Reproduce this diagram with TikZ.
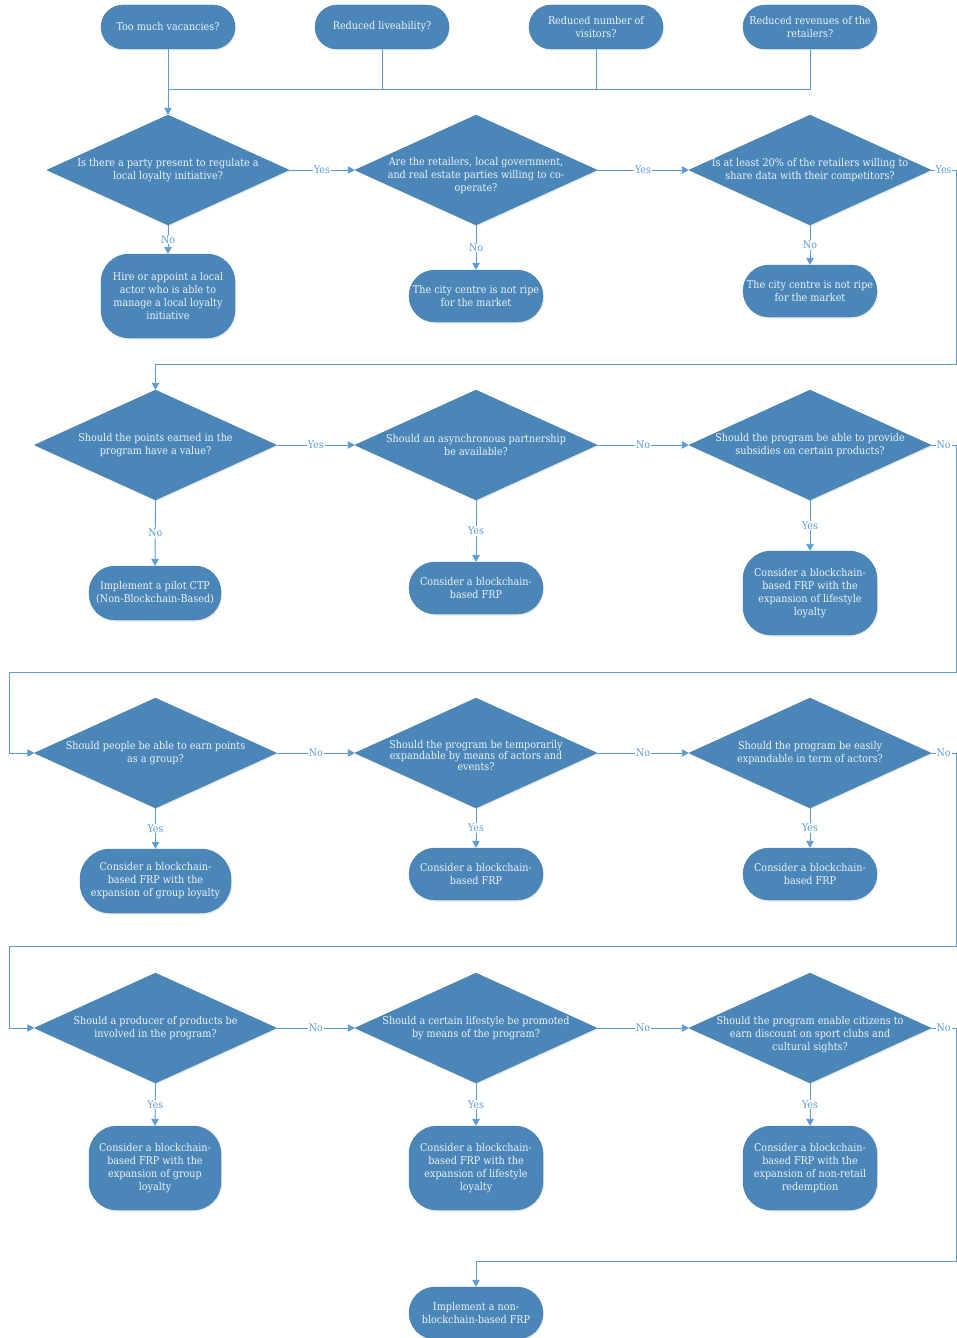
\documentclass[tikz,border=0pt]{standalone}
\usepackage{fontspec}
\setmainfont{DejaVu Serif Condensed}
\usetikzlibrary{shapes.geometric,arrows.meta,shadows}
\definecolor{boxblue}{HTML}{4A86B8}
\definecolor{boxedge}{HTML}{437DAF}
\definecolor{linkblue}{HTML}{5B9BD5}
\definecolor{boxtext}{HTML}{EEF3F8}
\tikzset{
  shadowed/.style={drop shadow={opacity=0.18,shadow xshift=1pt,shadow yshift=-1.5pt}},
  terminal/.style={rectangle,rounded corners=22pt,minimum width=134pt,minimum height=44pt,
    fill=boxblue,draw=boxedge,line width=0.4pt,shadowed,text=boxtext,align=center,
    font=\fontsize{10.7}{13}\selectfont,inner sep=0pt},
  outcome/.style={rectangle,rounded corners=26pt,minimum width=134pt,minimum height=52pt,
    fill=boxblue,draw=boxedge,line width=0.4pt,shadowed,text=boxtext,align=center,
    font=\fontsize{10.7}{13}\selectfont,inner sep=0pt},
  tall/.style={outcome,minimum height=84pt,rounded corners=28pt},
  decision/.style={diamond,minimum width=242pt,minimum height=110pt,inner sep=0pt,
    fill=boxblue,draw=boxedge,line width=0.4pt,shadowed},
  qtext/.style={text=boxtext,align=center,font=\fontsize{10.7}{13}\selectfont,inner sep=0pt},
  link/.style={draw=linkblue,line width=0.9pt},
  arrowlink/.style={link,-{Triangle[length=7pt,width=7.5pt]}},
  answer/.style={fill=white,text=linkblue,inner sep=1pt,font=\fontsize{10.5}{12}\selectfont},
}
\begin{document}
\begin{tikzpicture}[x=1pt,y=-1pt]
\useasboundingbox[fill=white] (0,0) rectangle (957,1338);

% ---- starting symptoms ----
\node[terminal] (t1) at (168,27) {Too much vacancies?};
\node[terminal] (t2) at (382,27) {Reduced liveability?};
\node[terminal] (t3) at (596,27) {Reduced number of\\visitors?};
\node[terminal] (t4) at (810,27) {Reduced revenues of the\\retailers?};

% ---- row 1 ----
\node[decision] (q11) at (168,170) {};
\node[qtext] (q11t) at (168,170.5) {Is there a party present to regulate a\\local loyalty initiative?};
\node[decision] (q12) at (476,170) {};
\node[qtext] (q12t) at (476,176) {Are the retailers, local government,\\and real estate parties willing to co-\\operate?};
\node[decision] (q13) at (810,170) {};
\node[qtext] (q13t) at (810,170.5) {Is at least 20\% of the retailers willing to\\share data with their competitors?};

\node[tall] (b11) at (168,296) {Hire or appoint a local\\actor who is able to\\manage a local loyalty\\initiative};
\node[outcome] (b12) at (476,296) {The city centre is not ripe\\for the market};
\node[outcome] (b13) at (810,291) {The city centre is not ripe\\for the market};

% ---- row 2 ----
\node[decision] (q21) at (155.5,445) {};
\node[qtext] (q21t) at (155.5,445) {Should the points earned in the\\program have a value?};
\node[decision] (q22) at (476,445) {};
\node[qtext] (q22t) at (476,445) {Should an asynchronous partnership\\be available?};
\node[decision] (q23) at (810,445) {};
\node[qtext] (q23t) at (810,445) {Should the program be able to provide\\subsidies on certain products?};

\node[outcome,minimum width=132pt,minimum height=54pt] (b21) at (155,593) {Implement a pilot CTP\\(Non-Blockchain-Based)};
\node[outcome] (b22) at (476,588) {Consider a blockchain-\\based FRP};
\node[tall] (b23) at (810,593) {Consider a blockchain-\\based FRP with the\\expansion of lifestyle\\loyalty};

% ---- row 3 ----
\node[decision] (q31) at (155.5,753) {};
\node[qtext] (q31t) at (155.5,753) {Should people be able to earn points\\as a group?};
\node[decision] (q32) at (476,753) {};
\node[qtext,font=\fontsize{10.7}{11}\selectfont] (q32t) at (476,756) {Should the program be temporarily\\expandable by means of actors and\\events?};
\node[decision] (q33) at (810,753) {};
\node[qtext] (q33t) at (810,753) {Should the program be easily\\expandable in term of actors?};

\node[outcome,minimum width=151pt,minimum height=64pt,rounded corners=30pt] (b31) at (155.5,881) {Consider a blockchain-\\based FRP with the\\expansion of group loyalty};
\node[outcome] (b32) at (476,874) {Consider a blockchain-\\based FRP};
\node[outcome] (b33) at (810,874) {Consider a blockchain-\\based FRP};

% ---- row 4 ----
\node[decision] (q41) at (155.5,1028) {};
\node[qtext] (q41t) at (155.5,1028) {Should a producer of products be\\involved in the program?};
\node[decision] (q42) at (476,1028) {};
\node[qtext] (q42t) at (476,1028) {Should a certain lifestyle be promoted\\by means of the program?};
\node[decision] (q43) at (810,1028) {};
\node[qtext] (q43t) at (810,1034.5) {Should the program enable citizens to\\earn discount on sport clubs and\\cultural sights?};

\node[tall,minimum width=132pt] (b41) at (155,1168) {Consider a blockchain-\\based FRP with the\\expansion of group\\loyalty};
\node[tall] (b42) at (476,1168) {Consider a blockchain-\\based FRP with the\\expansion of lifestyle\\loyalty};
\node[tall] (b43) at (810,1168) {Consider a blockchain-\\based FRP with the\\expansion of non-retail\\redemption};

\node[outcome] (bf) at (476,1313) {Implement a non-\\blockchain-based FRP};

% ---- bend points ----
\coordinate (join) at (168,89);
\coordinate (r1a) at (956,170);
\coordinate (r1b) at (956,364);
\coordinate (r1c) at (155.5,364);
\coordinate (r2a) at (956,445);
\coordinate (r2b) at (956,672);
\coordinate (r2c) at (9,672);
\coordinate (r2d) at (9,753);
\coordinate (r3a) at (956,753);
\coordinate (r3b) at (956,946);
\coordinate (r3c) at (9,946);
\coordinate (r3d) at (9,1028);
\coordinate (r4a) at (956,1028);
\coordinate (r4b) at (956,1261);
\coordinate (r4c) at (476,1261);

% ---- merging the symptoms ----
\draw[link] (t2.south) -- (t2.south |- join) -- (join);
\draw[link] (t3.south) -- (t3.south |- join) -- (join);
\draw[link] (t4.south) -- (t4.south |- join) -- (join);
\draw[arrowlink] (t1.south) -- (q11.north);

% ---- row 1 connectors ----
\draw[arrowlink] (q11.east) -- node[answer] (a1) {Yes} (q12.west);
\draw[arrowlink] (q12.east) -- node[answer] (a2) {Yes} (q13.west);
\draw[arrowlink] (q11.south) -- node[answer] (a3) {No} (b11.north);
\draw[arrowlink] (q12.south) -- node[answer] (a4) {No} (b12.north);
\draw[arrowlink] (q13.south) -- node[answer] (a5) {No} (b13.north);
\draw[link] (q13.east) -- node[answer] (a6) {Yes} (r1a);
\draw[arrowlink] (r1a) -- (r1b) -- (r1c) -- (q21.north);

% ---- row 2 connectors ----
\draw[arrowlink] (q21.east) -- node[answer] (a7) {Yes} (q22.west);
\draw[arrowlink] (q22.east) -- node[answer] (a8) {No} (q23.west);
\draw[arrowlink] (q21.south) -- node[answer] (a9) {No} (b21.north);
\draw[arrowlink] (q22.south) -- node[answer] (a10) {Yes} (b22.north);
\draw[arrowlink] (q23.south) -- node[answer] (a11) {Yes} (b23.north);
\draw[link] (q23.east) -- node[answer] (a12) {No} (r2a);
\draw[arrowlink] (r2a) -- (r2b) -- (r2c) -- (r2d) -- (q31.west);

% ---- row 3 connectors ----
\draw[arrowlink] (q31.east) -- node[answer] (a13) {No} (q32.west);
\draw[arrowlink] (q32.east) -- node[answer] (a14) {No} (q33.west);
\draw[arrowlink] (q31.south) -- node[answer] (a15) {Yes} (b31.north);
\draw[arrowlink] (q32.south) -- node[answer] (a16) {Yes} (b32.north);
\draw[arrowlink] (q33.south) -- node[answer] (a17) {Yes} (b33.north);
\draw[link] (q33.east) -- node[answer] (a18) {No} (r3a);
\draw[arrowlink] (r3a) -- (r3b) -- (r3c) -- (r3d) -- (q41.west);

% ---- row 4 connectors ----
\draw[arrowlink] (q41.east) -- node[answer] (a19) {No} (q42.west);
\draw[arrowlink] (q42.east) -- node[answer] (a20) {No} (q43.west);
\draw[arrowlink] (q41.south) -- node[answer] (a21) {Yes} (b41.north);
\draw[arrowlink] (q42.south) -- node[answer] (a22) {Yes} (b42.north);
\draw[arrowlink] (q43.south) -- node[answer] (a23) {Yes} (b43.north);
\draw[link] (q43.east) -- node[answer] (a24) {No} (r4a);
\draw[arrowlink] (r4a) -- (r4b) -- (r4c) -- (bf.north);
\end{tikzpicture}
\end{document}
